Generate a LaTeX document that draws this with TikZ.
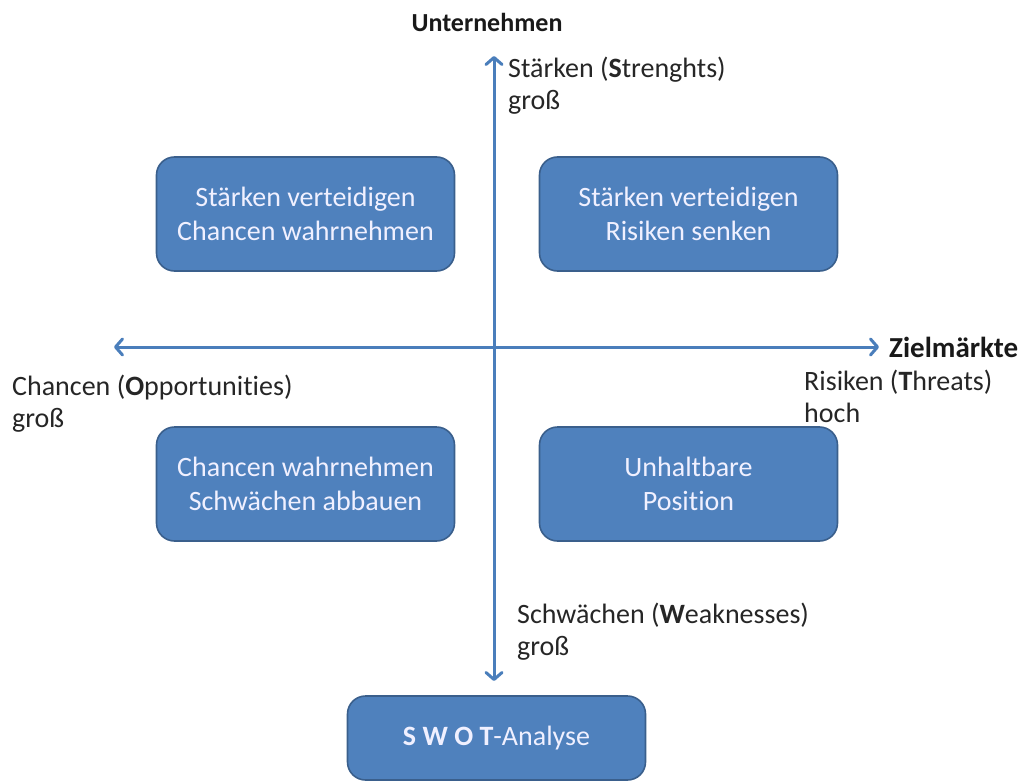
\documentclass[tikz,border=0pt]{standalone}
\usepackage{fontspec}
\setmainfont{Carlito}[Ligatures={NoCommon}]
\usetikzlibrary{arrows.meta}
\definecolor{boxfill}{HTML}{4F81BD}
\definecolor{boxline}{HTML}{3A5F8C}
\definecolor{axis}{HTML}{4A7EBB}
\begin{document}
\begin{tikzpicture}[x=1pt,y=-1pt,
  quad/.style={draw=boxline,line width=1.6pt,fill=boxfill,rounded corners=18pt,
    minimum width=298pt,minimum height=114pt,align=center,text=white!94!blue,
    font=\fontsize{28}{34}\selectfont},
  swotbox/.style={quad,minimum height=84pt},
  lbl/.style={align=left,inner sep=0pt,font=\fontsize{28}{32}\selectfont,text=black!85},
  head/.style={inner sep=0pt,font=\fontsize{26}{30}\selectfont\bfseries,text=black!90},
  axisline/.style={draw=axis,line width=3pt,
    -{Straight Barb[length=7pt,width=16pt,line cap=round,line join=round]}}]
\useasboundingbox (0,0) rectangle (1019,781);
\clip (0,0) rectangle (1019,781);
% quadrant boxes
\node[quad] (so) at (305.5,214) {Stärken verteidigen\\Chancen wahrnehmen};
\node[quad] (st) at (688.5,214) {Stärken verteidigen\\Risiken senken};
\node[quad] (wo) at (305.5,484) {Chancen wahrnehmen\\Schwächen abbauen};
\node[quad] (wt) at (688.5,484) {Unhaltbare\\Position};
\node[swotbox] (swot) at (496.5,738) {\textbf{S W O T}-Analyse};
% axes
\coordinate (c) at (494,347);
\coordinate (top) at (494,56);
\coordinate (bot) at (494,681);
\coordinate (lft) at (114,347);
\coordinate (rgt) at (879,347);
\draw[axisline] (c) -- (top);
\draw[axisline] (c) -- (bot);
\draw[axisline] (c) -- (lft);
\draw[axisline] (c) -- (rgt);
% axis titles
\node[head] (unt) at (487,22) {Unternehmen};
\node[head,anchor=west,font=\fontsize{29}{30}\selectfont\bfseries] (ziel) at (889,347) {Zielmärkte};
% axis end labels
\node[lbl,anchor=north west] (s) at (508,57) {Stärken (\textbf{S}trenghts)\\groß};
\node[lbl,anchor=north west] (t) at (804,370) {Risiken (\textbf{T}hreats)\\hoch};
\node[lbl,anchor=north west] (o) at (12,375) {Chancen (\textbf{O}pportunities)\\groß};
\node[lbl,anchor=north west] (w) at (517,603) {Schwächen (\textbf{W}eaknesses)\\groß};
\end{tikzpicture}
\end{document}
